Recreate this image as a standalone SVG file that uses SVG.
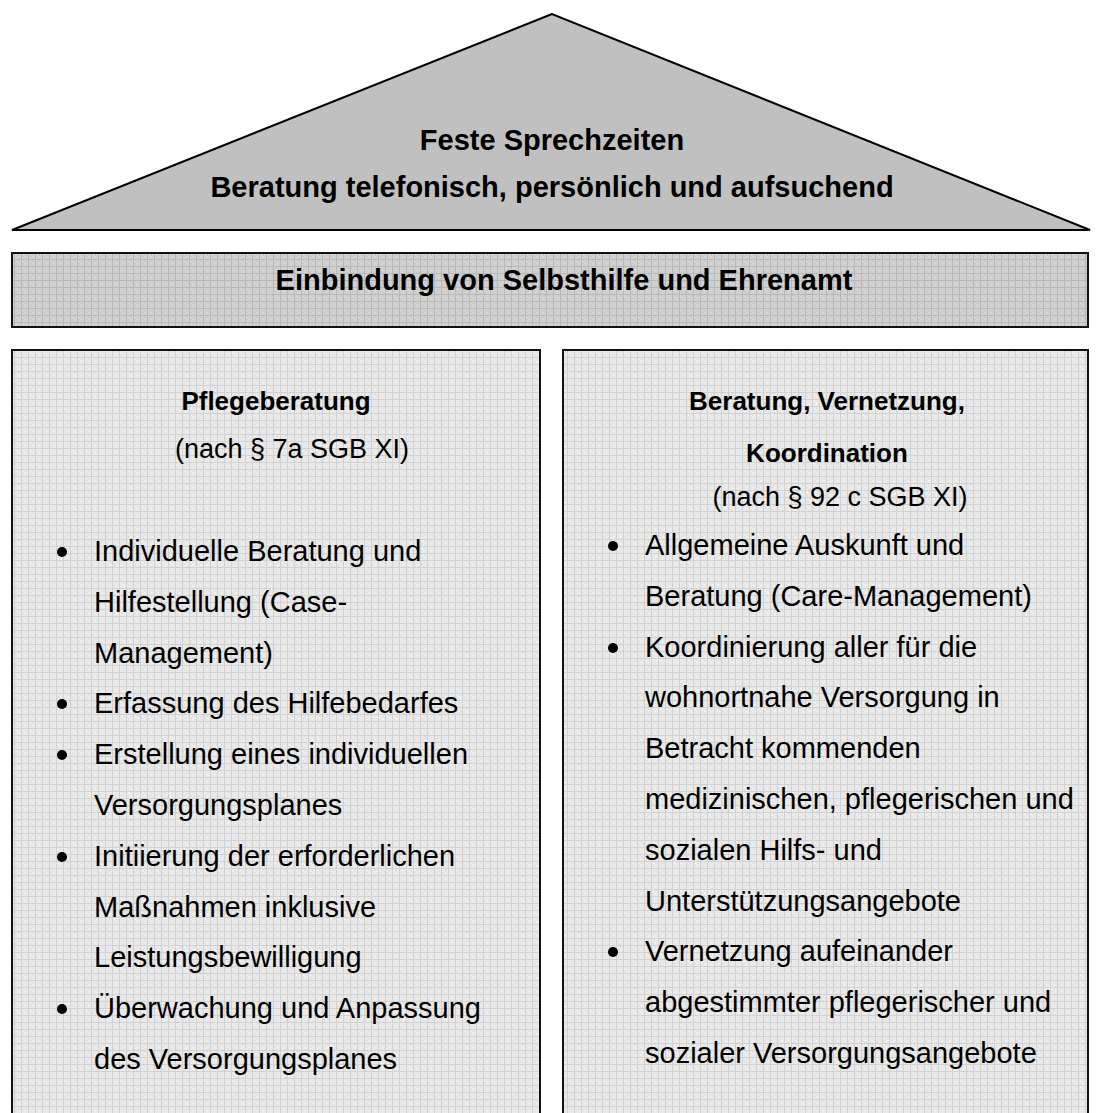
<svg xmlns="http://www.w3.org/2000/svg" width="1099" height="1113" viewBox="0 0 1099 1113">
<defs>
<pattern id="gridLight" patternUnits="userSpaceOnUse" width="7" height="7">
<rect width="7" height="7" fill="#e9e9e9"/>
<rect x="2" y="2" width="1" height="1" fill="#f4f4f4"/>
<rect x="4" y="4" width="1" height="1" fill="#f4f4f4"/>
<rect x="4" y="2" width="1" height="1" fill="#dedede"/>
<rect x="2" y="4" width="1" height="1" fill="#dedede"/>
<rect x="0" y="0" width="7" height="1" fill="#d2d2d2"/>
<rect x="0" y="0" width="1" height="7" fill="#d2d2d2"/>
</pattern>
<pattern id="gridDark" patternUnits="userSpaceOnUse" width="7" height="7">
<rect width="7" height="7" fill="#d0d0d0"/>
<rect x="2" y="2" width="1" height="1" fill="#dcdcdc"/>
<rect x="4" y="4" width="1" height="1" fill="#dcdcdc"/>
<rect x="4" y="2" width="1" height="1" fill="#c4c4c4"/>
<rect x="2" y="4" width="1" height="1" fill="#c4c4c4"/>
<rect x="0" y="0" width="7" height="1" fill="#b8b8b8"/>
<rect x="0" y="0" width="1" height="7" fill="#b8b8b8"/>
</pattern>
</defs>
<style>
text { font-family: "Liberation Sans", Arial, sans-serif; fill: #000; }
.big { font-size: 29px; font-weight: bold; text-anchor: middle; }
.title { font-size: 26px; font-weight: bold; text-anchor: middle; }
.sub { font-size: 27px; text-anchor: middle; }
.item { font-size: 29px; }
.frame { stroke: #111; stroke-width: 2; }
</style>
<g id="roof">
<polygon points="552,14 12,230 1090,230" fill="#c0c0c0" stroke="#000" stroke-width="2" stroke-linejoin="miter"/>
<text class="big" x="552" y="150">Feste Sprechzeiten</text>
<text class="big" x="552" y="197">Beratung telefonisch, persönlich und aufsuchend</text>
</g>
<g id="banner">
<rect class="frame" x="12" y="253" width="1076" height="74" fill="url(#gridDark)"/>
<text class="big" x="564" y="290">Einbindung von Selbsthilfe und Ehrenamt</text>
</g>
<g id="pflegeberatung">
<rect class="frame" x="12" y="350" width="528" height="790" fill="url(#gridLight)"/>
<text class="title" x="276" y="410">Pflegeberatung</text>
<text class="sub" x="292" y="458">(nach § 7a SGB XI)</text>
<g fill="#000">
<circle cx="62" cy="552" r="5"/>
<circle cx="62" cy="704" r="5"/>
<circle cx="62" cy="755" r="5"/>
<circle cx="62" cy="857" r="5"/>
<circle cx="62" cy="1009" r="5"/>
</g>
<text class="item" x="94" y="561">Individuelle Beratung und</text>
<text class="item" x="94" y="612">Hilfestellung (Case-</text>
<text class="item" x="94" y="663">Management)</text>
<text class="item" x="94" y="713">Erfassung des Hilfebedarfes</text>
<text class="item" x="94" y="764">Erstellung eines individuellen</text>
<text class="item" x="94" y="815">Versorgungsplanes</text>
<text class="item" x="94" y="866">Initiierung der erforderlichen</text>
<text class="item" x="94" y="917">Maßnahmen inklusive</text>
<text class="item" x="94" y="967">Leistungsbewilligung</text>
<text class="item" x="94" y="1018">Überwachung und Anpassung</text>
<text class="item" x="94" y="1069">des Versorgungsplanes</text>
</g>
<g id="beratung-vernetzung">
<rect class="frame" x="563" y="350" width="525" height="790" fill="url(#gridLight)"/>
<text class="title" x="827" y="410">Beratung, Vernetzung,</text>
<text class="title" x="827" y="462">Koordination</text>
<text class="sub" x="840" y="506">(nach § 92 c SGB XI)</text>
<g fill="#000">
<circle cx="613" cy="546" r="5"/>
<circle cx="613" cy="648" r="5"/>
<circle cx="613" cy="952" r="5"/>
</g>
<text class="item" x="645" y="555">Allgemeine Auskunft und</text>
<text class="item" x="645" y="606">Beratung (Care-Management)</text>
<text class="item" x="645" y="657">Koordinierung aller für die</text>
<text class="item" x="645" y="707">wohnortnahe Versorgung in</text>
<text class="item" x="645" y="758">Betracht kommenden</text>
<text class="item" x="645" y="809">medizinischen, pflegerischen und</text>
<text class="item" x="645" y="860">sozialen Hilfs- und</text>
<text class="item" x="645" y="911">Unterstützungsangebote</text>
<text class="item" x="645" y="961">Vernetzung aufeinander</text>
<text class="item" x="645" y="1012">abgestimmter pflegerischer und</text>
<text class="item" x="645" y="1063">sozialer Versorgungsangebote</text>
</g>
</svg>
